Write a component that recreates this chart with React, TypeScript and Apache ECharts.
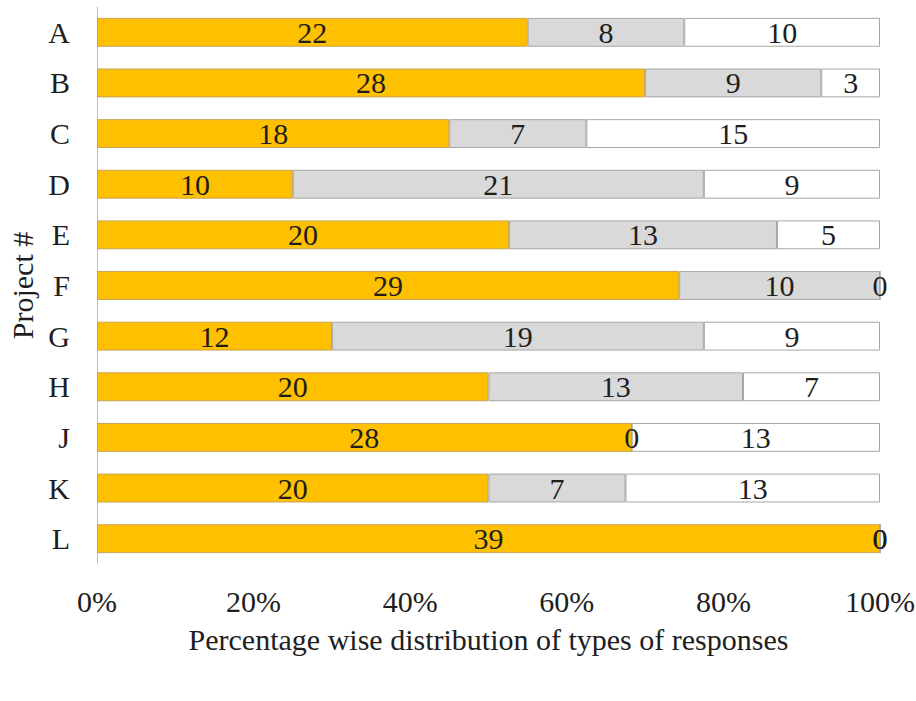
import React, { useEffect, useRef } from "react";
import * as echarts from "echarts";

// Projects (top to bottom) and the number of responses of each type
const projects = ["A", "B", "C", "D", "E", "F", "G", "H", "J", "K", "L"];
const type1Counts = [22, 28, 18, 10, 20, 29, 12, 20, 28, 20, 39];
const type2Counts = [8, 9, 7, 21, 13, 10, 19, 13, 0, 7, 0];
const type3Counts = [10, 3, 15, 9, 5, 0, 9, 7, 13, 13, 0];
const seriesNames = ["Response type 1", "Response type 2", "Response type 3"];
const xTicks = [0, 20, 40, 60, 80, 100];

const FONT = '"Liberation Serif", "Times New Roman", serif';
const FONT_SIZE = 30;
const TEXT_COLOR = "#1e1e1e";

const totals = projects.map(
  (_, i) => type1Counts[i] + type2Counts[i] + type3Counts[i]
);
const toPercent = (counts: number[]) =>
  counts.map((c, i) => (c / totals[i]) * 100);

export default function App() {
  const ref = useRef<HTMLDivElement>(null);

  useEffect(() => {
    if (!ref.current) return;
    const chart = echarts.init(ref.current, null, { renderer: "svg" });

    const makeSeries = (
      name: string,
      counts: number[],
      fill: string,
      border: string
    ) => ({
      name,
      type: "bar",
      stack: "total",
      barWidth: "57%",
      data: toPercent(counts),
      itemStyle: { color: fill, borderColor: border, borderWidth: 1 },
      label: {
        show: true,
        position: "inside",
        fontFamily: FONT,
        fontSize: FONT_SIZE,
        color: TEXT_COLOR,
        formatter: (p: any) => String(counts[p.dataIndex]),
      },
    });

    chart.setOption({
      animation: false,
      backgroundColor: "#ffffff",
      grid: {
        left: 97,
        right: 36,
        top: 7,
        bottom: 137,
        containLabel: false,
        outerBoundsMode: "none",
      },
      xAxis: {
        type: "value",
        min: 0,
        max: 100,
        interval: 20,
        axisLine: { show: false },
        axisTick: { show: false },
        splitLine: { show: false },
        axisLabel: {
          formatter: (v: number) => (xTicks.includes(v) ? `${v}%` : ""),
          fontFamily: FONT,
          fontSize: FONT_SIZE,
          color: TEXT_COLOR,
          margin: 22,
        },
        name: "Percentage wise distribution of types of responses",
        nameLocation: "middle",
        nameGap: 60,
        nameTextStyle: { fontFamily: FONT, fontSize: FONT_SIZE, color: TEXT_COLOR },
      },
      yAxis: {
        type: "category",
        data: projects,
        inverse: true,
        axisLine: { show: true, lineStyle: { color: "#bfbfbf", width: 1 } },
        axisTick: { show: false },
        axisLabel: {
          fontFamily: FONT,
          fontSize: FONT_SIZE,
          color: TEXT_COLOR,
          margin: 27,
        },
        name: "Project #",
        nameLocation: "middle",
        nameGap: 56,
        nameTextStyle: { fontFamily: FONT, fontSize: FONT_SIZE, color: TEXT_COLOR },
      },
      series: [
        makeSeries(seriesNames[0], type1Counts, "#ffc000", "#c9a352"),
        makeSeries(seriesNames[1], type2Counts, "#d9d9d9", "#a6a6a6"),
        makeSeries(seriesNames[2], type3Counts, "#ffffff", "#a6a6a6"),
      ],
    });

    return () => chart.dispose();
  }, []);

  return (
    <div
      ref={ref}
      style={{ position: "fixed", left: 0, top: 0, width: 916, height: 701 }}
    />
  );
}
